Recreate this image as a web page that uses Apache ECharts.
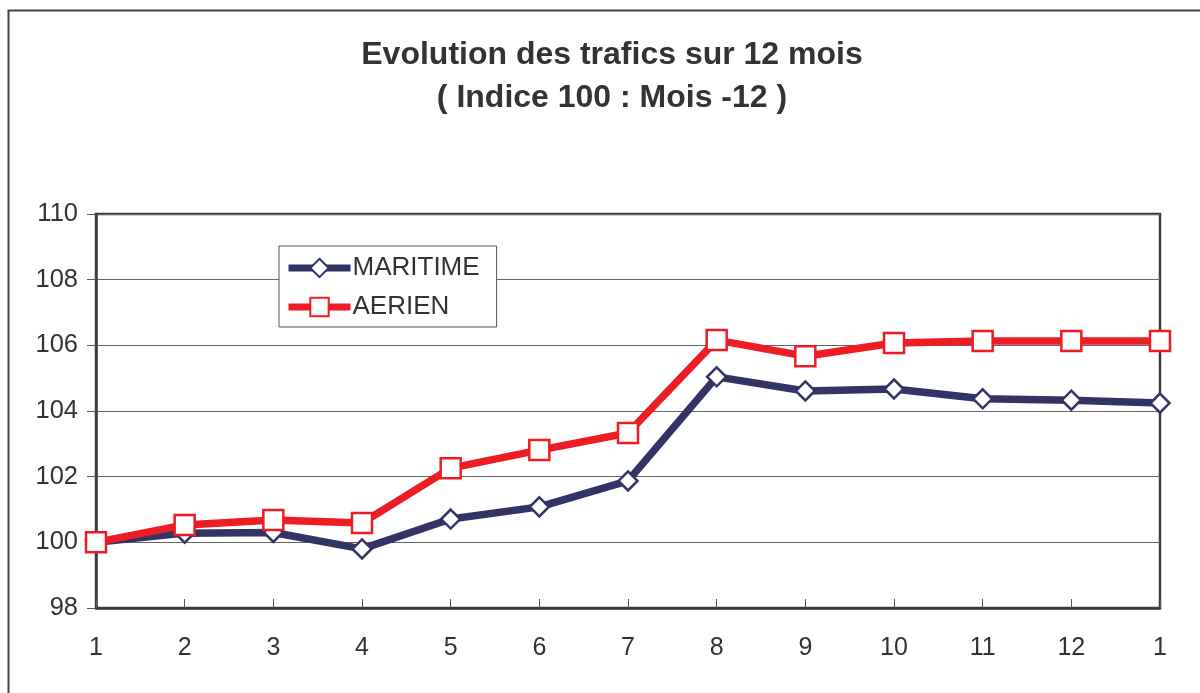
<!DOCTYPE html>
<html>
<head>
<meta charset="utf-8">
<script src="https://cdn.jsdelivr.net/npm/echarts@6/dist/echarts.min.js"></script>
<style>
  html, body { margin: 0; padding: 0; background: #fff; }
  #chart { width: 1200px; height: 693px; }
</style>
</head>
<body>
<div id="chart"></div>
<script>
// mois (indice 100 au mois -12)
const months = ['1', '2', '3', '4', '5', '6', '7', '8', '9', '10', '11', '12', '1'];
const maritime = [100.0, 100.28, 100.3, 99.8, 100.71, 101.08, 101.87, 105.04, 104.61, 104.67, 104.37, 104.33, 104.24];
const aerien = [100.0, 100.53, 100.68, 100.59, 102.26, 102.81, 103.33, 106.16, 105.67, 106.07, 106.13, 106.13, 106.13];

const chart = echarts.init(document.getElementById('chart'));
const font = 'Liberation Sans, Arial, sans-serif';
const navy = '#333366';
const red = '#ee1c25';

chart.setOption({
  animation: false,
  backgroundColor: '#fff',
  title: {
    text: 'Evolution des trafics sur 12 mois\n( Indice 100 : Mois -12 )',
    left: 607,
    textAlign: 'center',
    top: 29,
    textStyle: {
      fontFamily: font,
      fontSize: 32,
      fontWeight: 'bold',
      color: '#333',
      lineHeight: 43
    }
  },
  graphic: [{
    type: 'rect',
    shape: { x: 8.5, y: 10.5, width: 1220, height: 720 },
    style: { fill: 'none', stroke: '#444', lineWidth: 2 },
    silent: true
  }],
  legend: {
    orient: 'vertical',
    left: 279,
    top: 246,
    padding: [9, 17, 7, 6],
    itemGap: 13,
    itemWidth: 62,
    itemHeight: 23,
    backgroundColor: '#fff',
    borderColor: '#555',
    borderWidth: 1,
    borderRadius: 0,
    textStyle: { fontFamily: font, fontSize: 26, color: '#333', padding: [0, 0, 0, -3] },
    data: [
      { name: 'MARITIME', lineStyle: { width: 7 }, itemStyle: { borderWidth: 2 } },
      { name: 'AERIEN', lineStyle: { width: 7 }, itemStyle: { borderWidth: 2 } }
    ]
  },
  grid: {
    left: 96,
    right: 40,
    top: 214,
    bottom: 85,
    show: true,
    borderColor: '#3c3c3c',
    borderWidth: 2.5
  },
  xAxis: {
    type: 'category',
    data: months,
    boundaryGap: false,
    axisLine: { lineStyle: { color: '#3c3c3c', width: 2.5 } },
    axisTick: { inside: true, length: 9, lineStyle: { color: '#555', width: 1 } },
    axisLabel: { fontFamily: font, fontSize: 25, color: '#333', margin: 28 },
    splitLine: { show: false }
  },
  yAxis: {
    type: 'value',
    min: 98,
    max: 110,
    interval: 2,
    axisLine: { show: true, lineStyle: { color: '#3c3c3c', width: 2.5 } },
    axisTick: { show: true, length: 9, lineStyle: { color: '#555', width: 1 } },
    axisLabel: { fontFamily: font, fontSize: 25.5, color: '#333', margin: 18 },
    splitLine: { lineStyle: { color: '#666', width: 1 } }
  },
  series: [
    {
      name: 'MARITIME',
      type: 'line',
      data: maritime,
      symbol: 'diamond',
      symbolSize: 19,
      showAllSymbol: true,
      lineStyle: { color: navy, width: 7.5 },
      itemStyle: { color: '#fff', borderColor: navy, borderWidth: 2.5 },
      color: navy
    },
    {
      name: 'AERIEN',
      type: 'line',
      data: aerien,
      symbol: 'rect',
      symbolSize: 20,
      showAllSymbol: true,
      lineStyle: { color: red, width: 7.5 },
      itemStyle: { color: '#fff', borderColor: red, borderWidth: 2.5 },
      color: red
    }
  ]
});
</script>
</body>
</html>
